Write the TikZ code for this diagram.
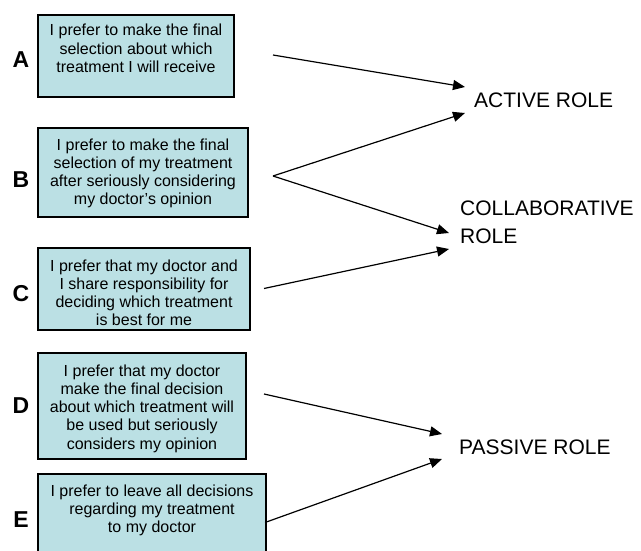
\documentclass[tikz,border=0pt]{standalone}
\usepackage{fontspec}
\setmainfont{Liberation Sans}
\usetikzlibrary{arrows.meta}
\definecolor{boxfill}{RGB}{187,224,228}
\newcommand\boxtxt[1]{\fontsize{16}{18.25}\selectfont\begin{tabular}[t]{@{}c@{}}#1\end{tabular}}
\tikzset{
  box/.style={draw=black, line width=1.4pt, fill=boxfill, inner sep=0pt},
  btext/.style={anchor=base, inner sep=0pt},
  letter/.style={anchor=base, inner sep=0pt, font=\bfseries\fontsize{23}{23}\selectfont},
  role/.style={anchor=base west, inner sep=0pt, align=left, font=\fontsize{21}{28}\selectfont},
  conn/.style={line width=1.2pt, -{Triangle[length=12pt,width=10pt]}}
}
\begin{document}
\begin{tikzpicture}[x=1pt,y=-1pt]
\useasboundingbox (0,0) rectangle (641,551);
\clip (0,0) rectangle (641,551);
% boxes
\node[box, minimum width=196pt, minimum height=82pt] (A) at (136,56) {};
\node[box, minimum width=210pt, minimum height=89pt] (B) at (143,172.5) {};
\node[box, minimum width=212pt, minimum height=82pt] (C) at (144,289) {};
\node[box, minimum width=208pt, minimum height=106pt] (D) at (142,406) {};
\node[box, minimum width=228pt, minimum height=100pt] (E) at (152,524) {};
% box texts
\node[btext] (tA) at (136,36) {\boxtxt{I prefer to make the final\\selection about which\\treatment I will receive}};
\node[btext] (tB) at (143,150) {\boxtxt{I prefer to make the final\\selection of my treatment\\after seriously considering\\my doctor’s opinion}};
\node[btext] (tC) at (144,271) {\boxtxt{I prefer that my doctor and\\I share responsibility for\\deciding which treatment\\is best for me}};
\node[btext] (tD) at (142,376) {\boxtxt{I prefer that my doctor\\make the final decision\\about which treatment will\\be used but seriously\\considers my opinion}};
\node[btext] (tE) at (152,496) {\boxtxt{I prefer to leave all decisions\\regarding my treatment\\to my doctor}};
% letters
\node[letter] (lA) at (21,67.5) {A};
\node[letter] (lB) at (21,188) {B};
\node[letter] (lC) at (21,301.5) {C};
\node[letter] (lD) at (21,413) {D};
\node[letter] (lE) at (21,527) {E};
% roles
\node[role] (active) at (474,108) {ACTIVE ROLE};
\node[role] (collab) at (460,243) {COLLABORATIVE\\ROLE};
\node[role] (passive) at (459,454) {PASSIVE ROLE};
% connector ends
\coordinate (a0) at (273,55);
\coordinate (b0) at (273,176);
\coordinate (c0) at (264,288.5);
\coordinate (d0) at (264,394);
\coordinate (e0) at (265,522.5);
\coordinate (act1) at (465,87);
\coordinate (act2) at (465,113);
\coordinate (col1) at (449,233);
\coordinate (col2) at (449,249);
\coordinate (pas1) at (442,434);
\coordinate (pas2) at (442,459);
% connectors
\draw[conn] (a0) -- (act1);
\draw[conn] (b0) -- (act2);
\draw[conn] (b0) -- (col1);
\draw[conn] (c0) -- (col2);
\draw[conn] (d0) -- (pas1);
\draw[conn] (e0) -- (pas2);
\end{tikzpicture}
\end{document}
